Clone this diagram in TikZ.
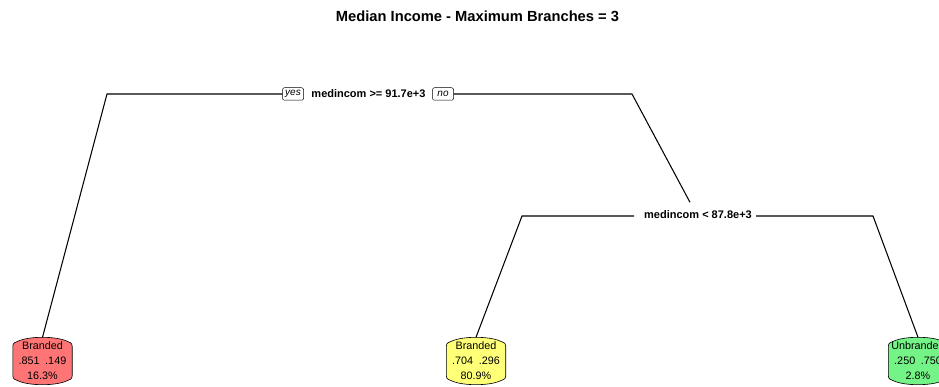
\documentclass[tikz,border=0pt]{standalone}
\usepackage{fontspec}
\setmainfont{Liberation Sans}
\usetikzlibrary{calc,backgrounds}

\definecolor{leafred}{RGB}{255,116,116}
\definecolor{leafyellow}{RGB}{255,255,120}
\definecolor{leafgreen}{RGB}{116,244,134}

% Outline of a leaf: straight sides, rounded corners, gently bulging top and bottom
\newcommand\leafpath{%
  (\x1,\y2+9pt) -- (\x1,\y1-9pt)
  .. controls (\x1,\y1-5.5pt) and (\x1+2.5pt,\y1-5pt) .. (\x1+5pt,\y1-4pt)
  .. controls (\x1+16pt,\y1+1.33pt) and (\x2-16pt,\y1+1.33pt) .. (\x2-5pt,\y1-4pt)
  .. controls (\x2-2.5pt,\y1-5pt) and (\x2,\y1-5.5pt) .. (\x2,\y1-9pt)
  -- (\x2,\y2+9pt)
  .. controls (\x2,\y2+5.5pt) and (\x2-2.5pt,\y2+5pt) .. (\x2-5pt,\y2+4pt)
  .. controls (\x2-16pt,\y2-1.33pt) and (\x1+16pt,\y2-1.33pt) .. (\x1+5pt,\y2+4pt)
  .. controls (\x1+2.5pt,\y2+5pt) and (\x1,\y2+5.5pt) .. cycle}

% Shadow and filled outline behind a leaf node
\newcommand\drawleafbox[2]{%
  \fill[black!13, shift={(1.8,1.8)}]
    let \p1=(#1.north west), \p2=(#1.south east) in \leafpath;
  \filldraw[fill=#2, draw=black, line width=0.6pt]
    let \p1=(#1.north west), \p2=(#1.south east) in \leafpath;
}

\begin{document}
\begin{tikzpicture}[x=1pt, y=-1pt,
  branch/.style={line width=1.05pt, black},
  titletext/.style={font=\bfseries\fontsize{14.7}{17}\selectfont, inner sep=0pt, anchor=base},
  splitlabel/.style={font=\bfseries\fontsize{11}{13}\selectfont, inner sep=0pt, anchor=base},
  yesno/.style={draw, line width=0.5pt, rounded corners=2pt, inner sep=0pt,
    minimum width=21, minimum height=12.5, font=\itshape\fontsize{10}{11}\selectfont},
  leaf/.style={minimum width=59, minimum height=47, inner sep=0pt, align=center,
    font=\fontsize{10.8}{15}\selectfont}
]
\useasboundingbox (0,0) rectangle (939,387);
\clip (0,0) rectangle (939,387);

% title
\node[titletext] (title) at (477.5,22) {Median Income - Maximum Branches = 3};

% split labels
\node[splitlabel] (root) at (368.5,98) {medincom >= 91.7e+3};
\node[yesno] (yes) at (293,94) {yes};
\node[yesno] (no) at (443,94) {no};
\node[splitlabel] (split2) at (698,218.5) {medincom < 87.8e+3};

% leaves
\node[leaf] (leafA) at (42.5,361) {Branded\\.851\hspace{5.5pt}.149\\16.3\%};
\node[leaf] (leafB) at (476,361) {Branded\\.704\hspace{5.5pt}.296\\80.9\%};
\node[leaf] (leafC) at (918,361) {Unbranded\\.250\hspace{5.5pt}.750\\2.8\%};

% branch corners
\coordinate (c1) at (107,94);
\coordinate (c2) at (632,94);
\coordinate (c3) at (522,216);
\coordinate (c4) at (873,216);

% branches
\draw[branch] (yes.west) -- (c1) -- (leafA.north);
\draw[branch] (no.east) -- (c2) -- ([shift={(-8,-8)}]split2.north);
\draw[branch] ([xshift=-10]split2.west |- c3) -- (c3) -- (leafB.north);
\draw[branch] ([xshift=4]split2.east |- c4) -- (c4) -- (leafC.north);

\begin{scope}[on background layer]
  \fill[white] (0,0) rectangle (939,387);
  \drawleafbox{leafA}{leafred}
  \drawleafbox{leafB}{leafyellow}
  \drawleafbox{leafC}{leafgreen}
\end{scope}
\end{tikzpicture}
\end{document}
